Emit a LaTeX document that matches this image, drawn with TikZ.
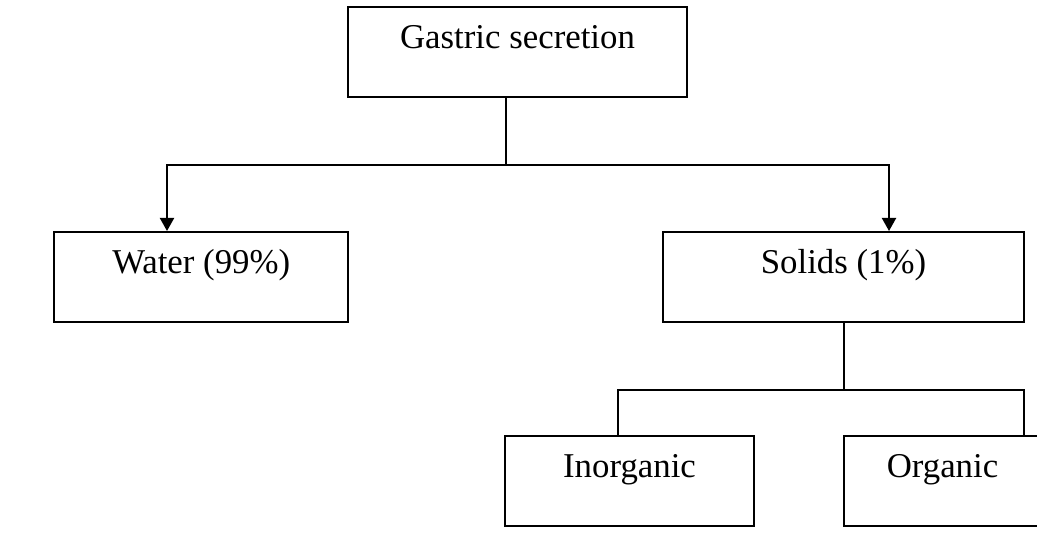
\documentclass[tikz,border=0pt]{standalone}
\usepackage{fontspec}
\setmainfont{Liberation Serif}
\usetikzlibrary{arrows.meta}
\begin{document}
\begin{tikzpicture}[
  box/.style={draw=black, line width=1pt, rectangle, inner sep=0pt, anchor=base,
    text height=21pt, text depth=24pt, font=\fontsize{17.4}{20}\selectfont},
  conn/.style={draw=black, line width=1pt},
  arr/.style={conn, -{Triangle[width=7pt,length=6.5pt]}}
]
\useasboundingbox (0,0) rectangle (518.5pt,275pt);
\clip (0,0) rectangle (518.5pt,275pt);
\node[box, minimum width=169.5pt] (g) at (258.75pt,250.5pt) {Gastric secretion};
\node[box, minimum width=147.25pt] (w) at (100.6pt,138pt) {Water (99\%)};
\node[box, minimum width=180.5pt] (s) at (421.75pt,138pt) {Solids (1\%)};
\node[box, minimum width=124.5pt] (i) at (314.75pt,36pt) {Inorganic};
\node[box, minimum width=98.5pt] (o) at (471.25pt,36pt) {Organic};
\coordinate (j1) at (253pt,192.7pt);
\coordinate (wl) at (83.5pt,192.7pt);
\coordinate (sr) at (444.5pt,192.7pt);
\coordinate (j2) at (421.75pt,79.75pt);
\coordinate (il) at (309pt,79.75pt);
\coordinate (or) at (512pt,79.75pt);
\draw[conn] (g.south -| j1) -- (j1);
\draw[arr] (j1) -- (wl) -- (w.north -| wl);
\draw[arr] (j1) -- (sr) -- (s.north -| sr);
\draw[conn] (s.south) -- (j2);
\draw[conn] (j2) -- (il) -- (i.north -| il);
\draw[conn] (j2) -- (or) -- (o.north -| or);
\end{tikzpicture}
\end{document}
